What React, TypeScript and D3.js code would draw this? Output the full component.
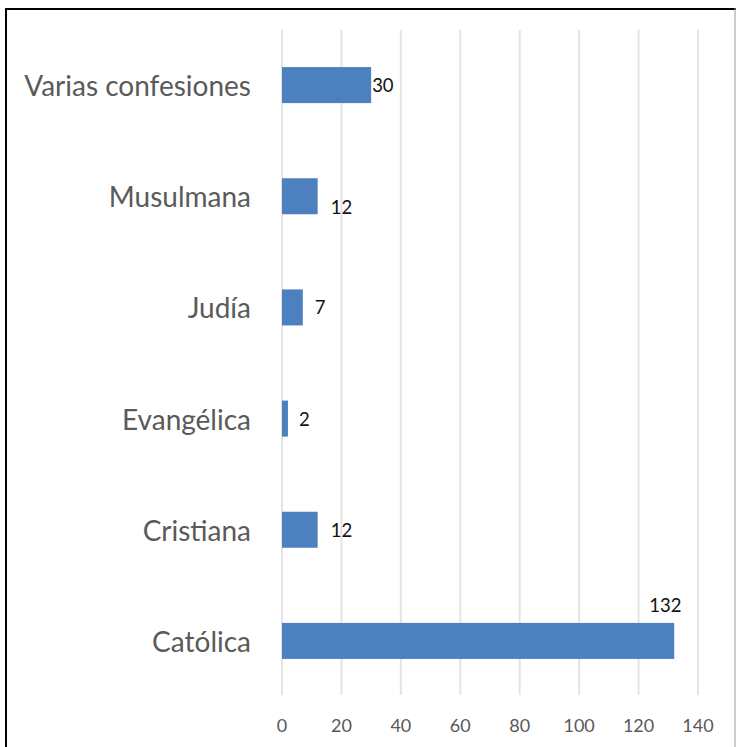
import React from "react";
import * as d3 from "d3";

const categories = ["Varias confesiones", "Musulmana", "Judía", "Evangélica", "Cristiana", "Católica"];
const values = [30, 12, 7, 2, 12, 132];
const xTicks = [0, 20, 40, 60, 80, 100, 120, 140];
// label nudges (styling): dx from bar end, dy from bar centre
const labelDx = [1, 13, 12, 11, 13, -25];
const labelDy = [0, 11, 0, 0, 0, -36];

const W = 736;
const H = 747;

export default function App() {
  const x = d3.scaleLinear().domain([0, 140]).range([282, 698]);
  const y = d3
    .scaleBand<string>()
    .domain(categories)
    .range([29.5, 696.5])
    .paddingInner(0.676)
    .paddingOuter(0.338);
  const font = "Lato, 'Open Sans', sans-serif";
  return (
    <div style={{ position: "fixed", left: 0, top: 0 }}>
      <svg width={W} height={H} style={{ display: "block", background: "#fff" }}>
        {xTicks.map((t) => (
          <line key={"g" + t} x1={x(t)} x2={x(t)} y1={30} y2={695} stroke="#e4e4e4" strokeWidth={2} />
        ))}
        {categories.map((c, i) => {
          const yc = (y(c) as number) + y.bandwidth() / 2;
          return (
            <g key={c}>
              <rect x={x(0)} y={y(c)} width={x(values[i]) - x(0)} height={y.bandwidth()} fill="#4d80be" />
              <text
                x={251}
                y={yc}
                textAnchor="end"
                dominantBaseline="central"
                fontFamily={font}
                fontSize={28}
                fill="#5a5a5a"
              >
                {c}
              </text>
              <text
                x={x(values[i]) + labelDx[i]}
                y={yc + labelDy[i]}
                dominantBaseline="central"
                fontFamily={font}
                fontSize={18.5}
                fill="#111"
              >
                {values[i]}
              </text>
            </g>
          );
        })}
        {xTicks.map((t) => (
          <text
            key={"t" + t}
            x={x(t)}
            y={725}
            textAnchor="middle"
            dominantBaseline="central"
            fontFamily={font}
            fontSize={18}
            fill="#595959"
          >
            {t}
          </text>
        ))}
        <line x1={6} x2={6} y1={8} y2={H} stroke="#000" strokeWidth={2} />
        <line x1={5} x2={W} y1={9} y2={9} stroke="#000" strokeWidth={2} />
        <line x1={735} x2={735} y1={8} y2={H} stroke="#999" strokeWidth={1} />
      </svg>
    </div>
  );
}
